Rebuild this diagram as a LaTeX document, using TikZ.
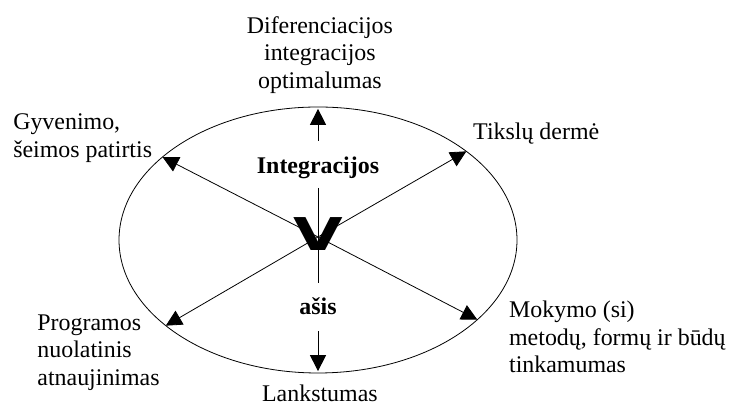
\documentclass[tikz,border=0pt]{standalone}
\usepackage{fontspec}
\setmainfont{Liberation Serif}
\newfontfamily\veefont{DejaVu Sans}
\usetikzlibrary{arrows.meta}

\begin{document}
\begin{tikzpicture}[xscale=1,yscale=1,
        every node/.style={font=\fontsize{18}{20.7}\selectfont, inner sep=0pt},
        rim/.style={line width=0.6pt},
        arr/.style={-{Triangle[length=12pt,width=12pt]}, line width=0.6pt},
        boldlbl/.style={font=\fontsize{18}{20.7}\selectfont\bfseries}]

        \useasboundingbox (-8.414,-4.418) rectangle (10.927,6.350);

        %===========================
        % Ellipse
        %===========================

        \draw[rim] (0,0) ellipse [x radius=5.265, y radius=3.519];

        %===========================
        % Centre
        %===========================

        \coordinate (O) at (0,0.08);
        \coordinate (upA) at (0,2.62);
        \coordinate (upB) at (0,3.47);
        \coordinate (midA) at (0,1.376);
        \coordinate (midB) at (0,-1.138);
        \coordinate (dnA) at (0,-2.41);
        \coordinate (dnB) at (0,-3.47);

        \coordinate (UL) at (141.4:5.265 and 3.519);
        \coordinate (UR) at (41.8:5.265 and 3.519);
        \coordinate (LR) at (-36.8:5.265 and 3.519);
        \coordinate (LL) at (220.1:5.265 and 3.519);

        \draw[arr] (O) to (UL);
        \draw[arr] (O) to (UR);
        \draw[arr] (O) to (LR);
        \draw[arr] (O) to (LL);

        \draw[arr] (upA) to (upB);
        \draw[rim] (midA) to (midB);
        \draw[arr] (dnA) to (dnB);

        \node (vee) at (0.01,0.16) [font=\veefont\bfseries\fontsize{34}{34}\selectfont, xscale=1.42]{V};

        \node (integ) at (0,1.77) [boldlbl, anchor=base]{Integracijos};
        \node (asis) at (0,-1.98) [boldlbl, anchor=base]{ašis};

        %===========================
        % Labels
        %===========================

        \node (optim) at (0.05,4.90) [align=center]{Diferenciacijos\\integracijos\\optimalumas};
        \node (life) at (-8.07,2.70) [anchor=west, align=left]{Gyvenimo,\\šeimos patirtis};
        \node (goals) at (4.10,2.67) [anchor=base west]{Tikslų dermė};
        \node (teach) at (5.05,-2.57) [anchor=west, align=left]{Mokymo (si)\\metodų, formų ir būdų\\tinkamumas};
        \node (prog) at (-7.43,-2.98) [anchor=west, align=left]{Programos\\nuolatinis\\atnaujinimas};
        \node (flex) at (0.05,-4.26) [anchor=base]{Lankstumas};
\end{tikzpicture}
\end{document}
